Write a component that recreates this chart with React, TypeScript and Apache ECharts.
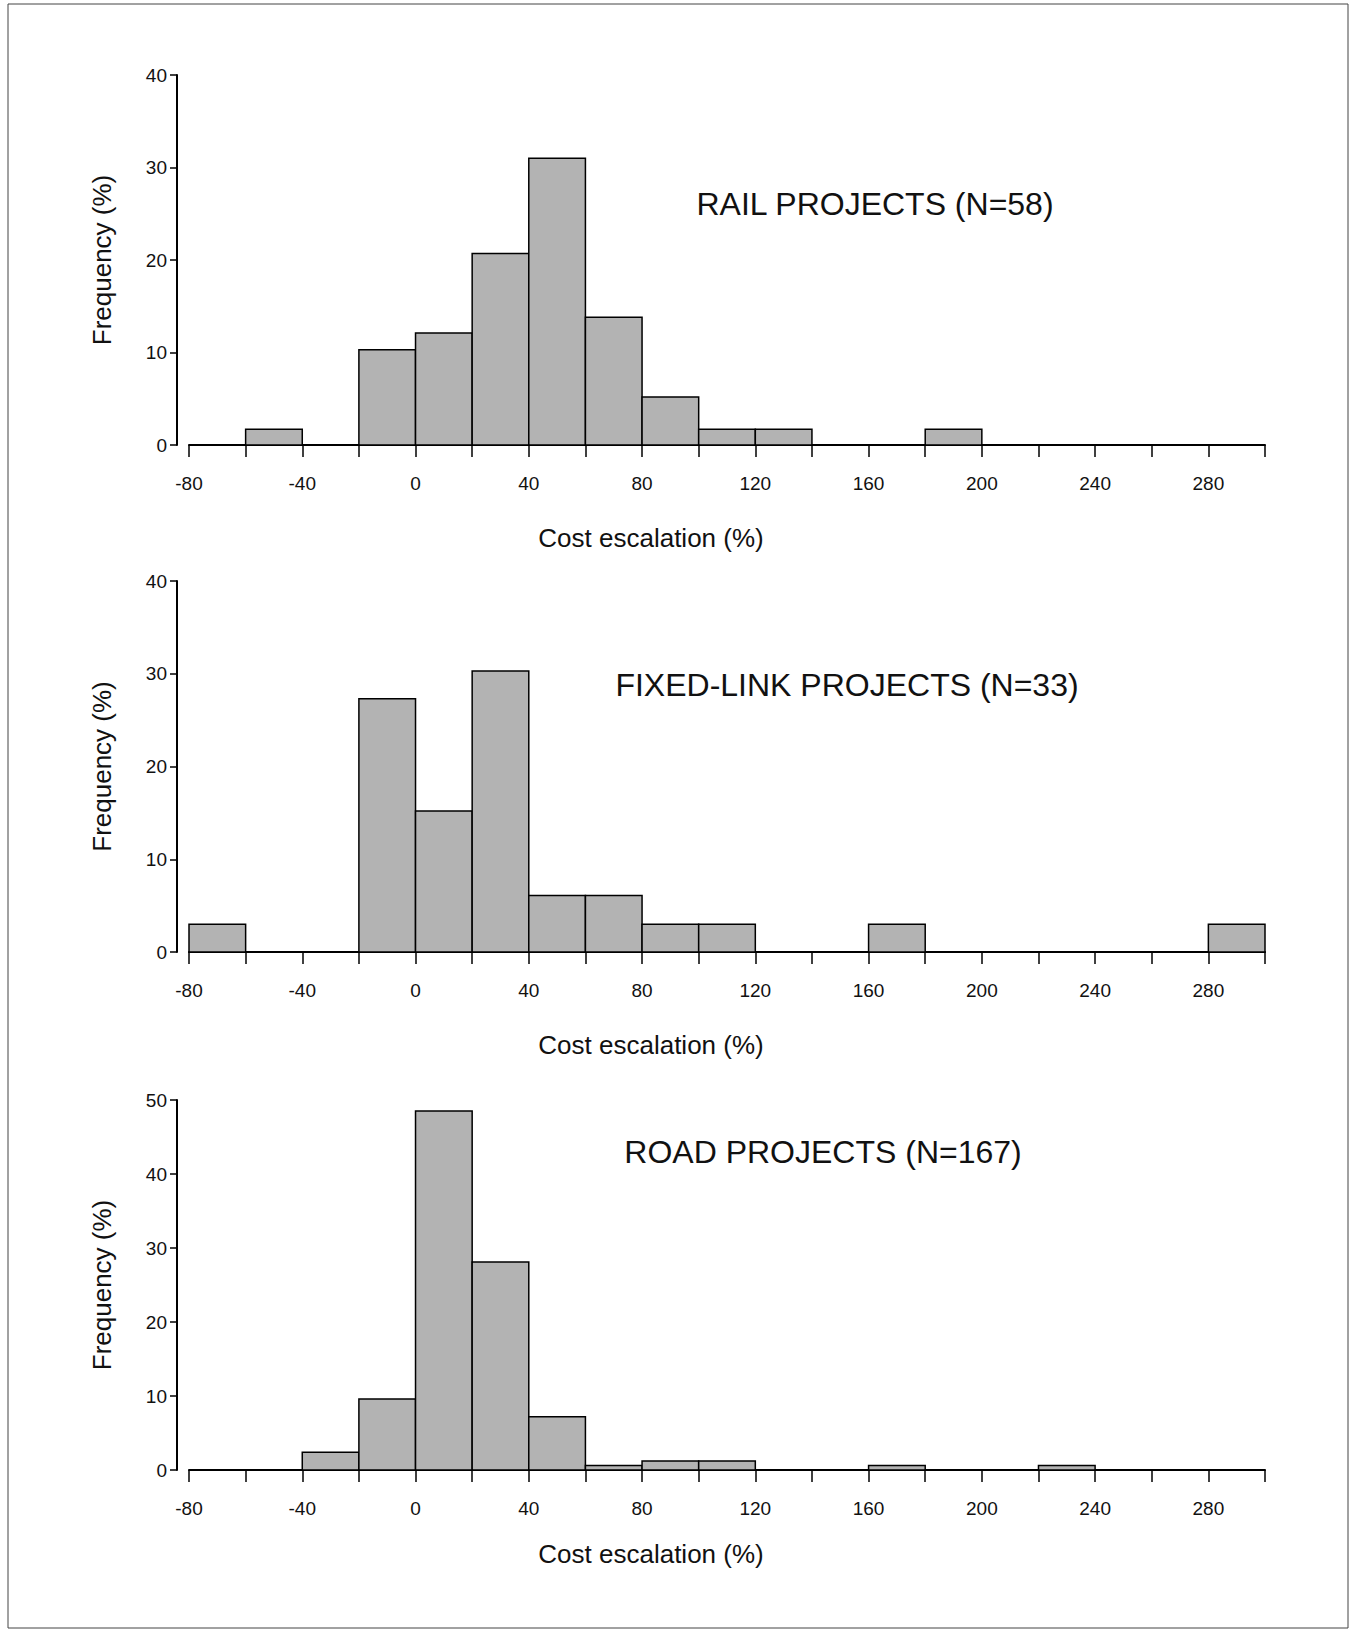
import React, { useEffect, useRef } from "react";
import * as echarts from "echarts";

const binStarts = [-80, -60, -40, -20, 0, 20, 40, 60, 80, 100, 120, 140, 160, 180, 200, 220, 240, 260, 280];
const railValues = [0, 1.7, 0, 10.3, 12.1, 20.7, 31.0, 13.8, 5.2, 1.7, 1.7, 0, 0, 1.7, 0, 0, 0, 0, 0];
const fixedValues = [3.0, 0, 0, 27.3, 15.2, 30.3, 6.1, 6.1, 3.0, 3.0, 0, 0, 3.0, 0, 0, 0, 0, 0, 3.0];
const roadValues = [0, 0, 2.4, 9.6, 48.5, 28.1, 7.2, 0.6, 1.2, 1.2, 0, 0, 0.6, 0, 0, 0.6, 0, 0, 0];
const titles = ["RAIL PROJECTS (N=58)", "FIXED-LINK PROJECTS (N=33)", "ROAD PROJECTS (N=167)"];
const yMaxes = [40, 40, 50];

const FONT = "Liberation Sans, Arial, sans-serif";

export default function App() {
  const ref = useRef<HTMLDivElement>(null);
  useEffect(() => {
    document.body.style.margin = "0";
    const chart = echarts.init(ref.current!, null, { renderer: "svg" });
    const grids = [
      { left: 189, right: 86, top: 75, height: 370 },
      { left: 189, right: 86, top: 581, height: 371 },
      { left: 189, right: 86, top: 1100, height: 370 },
    ];
    const nameGaps = [80, 80, 71];
    const all = [railValues, fixedValues, roadValues];
    const titlePos = [
      { x: 870, y: 200 },
      { x: 842, y: 681 },
      { x: 818, y: 1148 },
    ];
    chart.setOption({
      animation: false,
      backgroundColor: "#fff",
      grid: grids,
      xAxis: grids.map((_, i) => ({
        type: "value",
        gridIndex: i,
        min: -80,
        max: 300,
        interval: 20,
        name: "Cost escalation (%)",
        nameLocation: "middle",
        nameGap: nameGaps[i],
        nameTextStyle: { fontFamily: FONT, fontSize: 26, color: "#111", padding: [0, 152, 0, 0] },
        axisLine: { show: true, onZero: false, lineStyle: { color: "#000", width: 2 } },
        axisTick: { show: true, inside: false, length: 12, lineStyle: { color: "#000", width: 1.5 } },
        axisLabel: {
          fontFamily: FONT,
          fontSize: 19,
          color: "#111",
          margin: 29,
          formatter: (v: number) => (((v + 80) % 40 === 0 && v < 300) ? String(v) : ""),
        },
        splitLine: { show: false },
      })),
      yAxis: grids.map((_, i) => ({
        type: "value",
        gridIndex: i,
        min: 0,
        max: yMaxes[i],
        interval: 10,
        offset: 12,
        name: "Frequency (%)",
        nameLocation: "middle",
        nameGap: 62,
        nameTextStyle: { fontFamily: FONT, fontSize: 26, color: "#111" },
        axisLine: { show: true, onZero: false, lineStyle: { color: "#000", width: 2 } },
        axisTick: { show: true, length: 7, lineStyle: { color: "#000", width: 1.5 } },
        axisLabel: { fontFamily: FONT, fontSize: 19, color: "#111", margin: 10 },
        splitLine: { show: false },
      })),
      title: titles.map((t, i) => ({
        text: t,
        left: titlePos[i].x,
        top: titlePos[i].y - 17,
        textAlign: "center",
        textStyle: { fontFamily: FONT, fontSize: 32, fontWeight: "normal", color: "#111" },
      })),
      graphic: [
        {
          type: "rect",
          shape: { x: 8, y: 4, width: 1340, height: 1624 },
          style: { fill: "none", stroke: "#444", lineWidth: 1 },
          silent: true,
        },
      ],
      series: all.map((vals, i) => ({
        type: "custom",
        xAxisIndex: i,
        yAxisIndex: i,
        data: binStarts
          .map((s, k) => [s, s + 20, vals[k]])
          .filter((d) => d[2] > 0),
        encode: { x: [0, 1], y: 2 },
        renderItem: (params: any, api: any) => {
          const p0 = api.coord([api.value(0), api.value(2)]);
          const p1 = api.coord([api.value(1), 0]);
          return {
            type: "rect",
            shape: { x: p0[0], y: p0[1], width: p1[0] - p0[0], height: p1[1] - p0[1] },
            style: { fill: "#b3b3b3", stroke: "#000", lineWidth: 1.5 },
          };
        },
      })),
    });
    return () => chart.dispose();
  }, []);
  return <div ref={ref} style={{ width: 1351, height: 1640 }} />;
}
